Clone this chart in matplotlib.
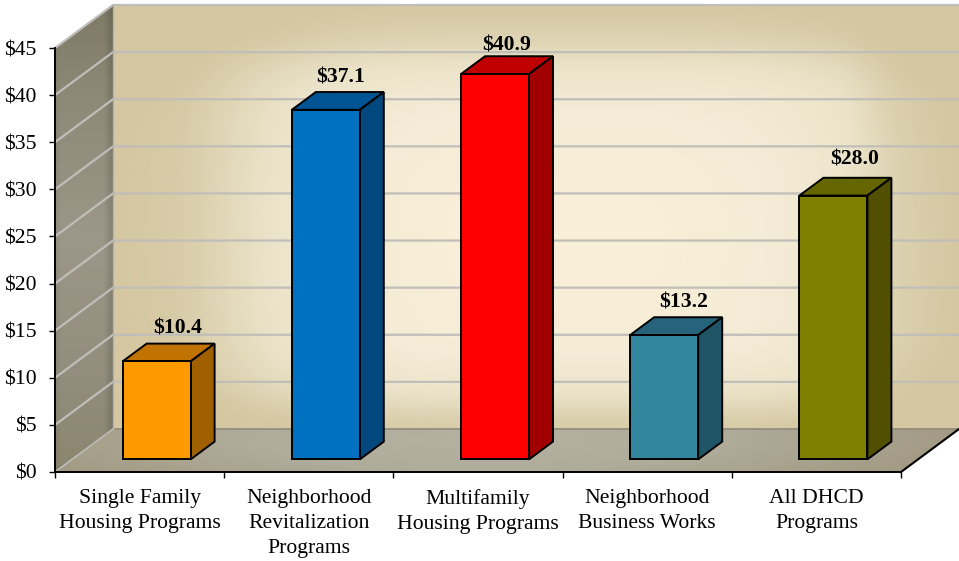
import numpy as np
import matplotlib
matplotlib.use("Agg")
import matplotlib.pyplot as plt
from matplotlib.patches import Polygon

categories = ["Single Family\nHousing Programs", "Neighborhood\nRevitalization\nPrograms",
              "Multifamily\nHousing Programs", "Neighborhood\nBusiness Works", "All DHCD\nPrograms"]
values = [10.4, 37.1, 40.9, 13.2, 28.0]
value_labels = ["$10.4", "$37.1", "$40.9", "$13.2", "$28.0"]
y_ticks = [0, 5, 10, 15, 20, 25, 30, 35, 40, 45]
y_tick_labels = ["$0", "$5", "$10", "$15", "$20", "$25", "$30", "$35", "$40", "$45"]

front_colors = ["#FF9900", "#0070C0", "#FF0000", "#31859C", "#808000"]
top_colors = ["#C07300", "#005494", "#C00000", "#25647A", "#666600"]
side_colors = ["#A06000", "#00487E", "#A00000", "#1F5566", "#505000"]
label_nudges = [(-3, 5.5), (-9, 4.5), (-12, 0.5), (-5, 4.5), (-3, 8.5)]

plt.rcParams["font.family"] = ["Liberation Serif", "DejaVu Serif"]
W, H = 959, 561
fig = plt.figure(figsize=(W / 100, H / 100), dpi=100, facecolor="white")

# plot geometry in pixels
L, R, Y0, Y45 = 55.0, 901.0, 472.0, 48.0
DX, DY = 58.0, 43.0
BAR_W_PX = 68.0
D_FRONT, D_BACK = 17.0 / DX, 41.0 / DX
FS = 15.6

# background layer: gradient walls
bg = fig.add_axes([0, 0, 1, 1], zorder=0)
bg.set_xlim(0, W)
bg.set_ylim(H, 0)
bg.axis("off")


def hex2rgb(c):
    return np.array(matplotlib.colors.to_rgb(c))


def ramp(t, stops):
    pos = [s[0] for s in stops]
    cols = np.array([hex2rgb(s[1]) for s in stops])
    return np.stack([np.interp(t, pos, cols[:, i]) for i in range(3)], axis=-1)


def paint(img, extent, poly):
    im = bg.imshow(img, extent=extent, aspect="auto", interpolation="bilinear", zorder=1)
    p = Polygon(poly, closed=True, transform=bg.transData, fc="none", ec="none")
    bg.add_patch(p)
    im.set_clip_path(p)


def smooth(a, k):
    """Box blur applied along both image axes, twice."""
    kern = np.ones(k) / k
    for _ in range(2):
        a = np.apply_along_axis(lambda r: np.convolve(np.pad(r, k, mode="edge"), kern, mode="same")[k:-k], 1, a)
        a = np.apply_along_axis(lambda r: np.convolve(np.pad(r, k, mode="edge"), kern, mode="same")[k:-k], 0, a)
    return a


# back wall: soft, rounded glow
x0, x1, y0, y1 = L + DX, W, Y45 - DY, Y0 - DY
xx, yy = np.meshgrid(np.linspace(x0, x1, 423), np.linspace(y0, y1, 212))
sx = np.interp(xx, [113, 180, 260, 360, 460, 650, 760, 840, 900, 959],
               [1, .92, .62, .3, .08, .08, .28, .5, .85, 1])
sy = np.interp(yy, [5, 40, 70, 110, 235, 340, 390, 429], [1, .8, .55, .3, 0, .2, .55, .95])
t = np.clip((sx ** 2.4 + sy ** 2.4) ** (1 / 2.4), 0, 1)
t = smooth(t, 9)
wall = ramp(t, [(0, "#FCF0D8"), (0.3, "#F4ECD6"), (0.6, "#EBE3C9"), (0.85, "#DCD1AF"), (1.0, "#D4C7A1")])
paint(wall, (x0, x1, y1, y0), [(x0, y0), (x1, y0), (x1, y1), (x0, y1)])

# left wall
x0, x1, y0, y1 = L, L + DX, Y45 - DY, Y0
xx, yy = np.meshgrid(np.linspace(0, 1, 60), np.linspace(0, 1, 200))
base = ramp(yy, [(0, "#7F7A66"), (0.2, "#8D8A78"), (0.5, "#9C9788"), (0.8, "#928D7C"), (1, "#8C8670")])
shade = np.interp(xx, [0, 0.1, 0.85, 1], [0.93, 1.0, 1.0, 0.85])[..., None]
paint(base * shade, (x0, x1, y1, y0), [(L, Y45), (L + DX, Y45 - DY), (L + DX, Y0 - DY), (L, Y0)])

# floor
x0, x1, y0, y1 = L, W, Y0 - DY, Y0
xx, yy = np.meshgrid(np.linspace(x0, x1, 300), np.linspace(y0, y1, 50))
t = np.sqrt(((xx - 480) / 470) ** 2 + ((yy - 440) / 60) ** 2)
floor = ramp(t, [(0, "#B6B2A2"), (0.5, "#B0AC9B"), (1.0, "#A39B84"), (1.5, "#A09679")])
paint(floor, (x0, x1, y1, y0), [(L, Y0), (R, Y0), (R + DX, Y0 - DY), (L + DX, Y0 - DY)])

# main axes on the front plane
ax = fig.add_axes([L / W, (H - Y0) / H, (R - L) / W, (Y0 - Y45) / H], zorder=1)
ax.patch.set_alpha(0)
n = len(values)
ax.set_xlim(0, n)
ax.set_ylim(0, 45)

cat_w = (R - L) / n
val_h = (Y0 - Y45) / 45
ddx, ddy = DX / cat_w, DY / val_h


def proj(x, v, d):
    """Data position of category coordinate x, value v at depth d (0 front, 1 back)."""
    return x + d * ddx, v + d * ddy


# gridlines on left wall and back wall
GRID = "#C0BEB9"
for yv in y_ticks:
    a = proj(0, yv, 0)
    b = proj(0, yv, 1)
    c = proj(n, yv, 1)
    if yv > 0:
        ax.plot([a[0], b[0], c[0]], [a[1], b[1], c[1]], color=GRID, lw=1.6,
                clip_on=False, zorder=2, solid_joinstyle="miter")
# floor/back wall joint and wall corners
b0 = proj(0, 0, 1)
b1 = proj(n, 0, 1)
b45 = proj(0, 45, 1)
ax.plot([b0[0], b1[0]], [b0[1], b1[1]], color="#8F8B7C", lw=1.2, clip_on=False, zorder=2)
ax.plot([b0[0], b45[0]], [b0[1], b45[1]], color="#B5B2A8", lw=1.0, clip_on=False, zorder=2)
f0 = proj(0, 0, 0)
ax.plot([f0[0], b0[0]], [f0[1], b0[1]], color="#BDBBB5", lw=1.2, clip_on=False, zorder=2)
# right floor edge
f1 = proj(n, 0, 0)
ax.plot([f1[0], b1[0]], [f1[1], b1[1]], color="black", lw=1.5, clip_on=False, zorder=3)

# bars
bar_w = BAR_W_PX / cat_w
centers = np.arange(n) + 0.5
for i, val in enumerate(values):
    xc = centers[i]
    xl, xr = xc - bar_w / 2, xc + bar_w / 2
    fx, fb = proj(xc, 0, D_FRONT)
    ek = dict(ec="black", lw=1.4, joinstyle="miter", clip_on=False, zorder=4)
    top = [proj(xl, val, D_FRONT), proj(xr, val, D_FRONT), proj(xr, val, D_BACK), proj(xl, val, D_BACK)]
    side = [proj(xr, 0, D_FRONT), proj(xr, 0, D_BACK), proj(xr, val, D_BACK), proj(xr, val, D_FRONT)]
    ax.add_patch(Polygon(top, closed=True, fc=top_colors[i], **ek))
    ax.add_patch(Polygon(side, closed=True, fc=side_colors[i], **ek))
    ax.bar(fx, val, width=bar_w, bottom=fb, color=front_colors[i], edgecolor="black", linewidth=1.4,
           clip_on=False, zorder=5)
    ax.annotate(value_labels[i], xy=proj(xc, val, D_BACK), xycoords="data",
                xytext=label_nudges[i], textcoords="offset pixels",
                ha="center", va="bottom", fontsize=FS, fontweight="bold", color="black",
                annotation_clip=False, zorder=6)

# axes furniture
for s in ("top", "right"):
    ax.spines[s].set_visible(False)
for s in ("left", "bottom"):
    ax.spines[s].set_linewidth(1.4)
    ax.spines[s].set_zorder(3)
ax.set_yticks(y_ticks)
ax.set_yticklabels(y_tick_labels, fontsize=FS)
ax.set_xticks(range(n + 1))
ax.set_xticklabels([])
ax.set_xticks(centers, minor=True)
ax.set_xticklabels(categories, minor=True, fontsize=FS, linespacing=1.4)
ax.tick_params(axis="y", direction="out", length=4.5, width=1, pad=8.7)
ax.tick_params(axis="x", which="major", direction="out", length=4.5, width=1)
ax.tick_params(axis="x", which="minor", length=0, pad=12.5)

fig.savefig("out.png", dpi=100, facecolor="white")
